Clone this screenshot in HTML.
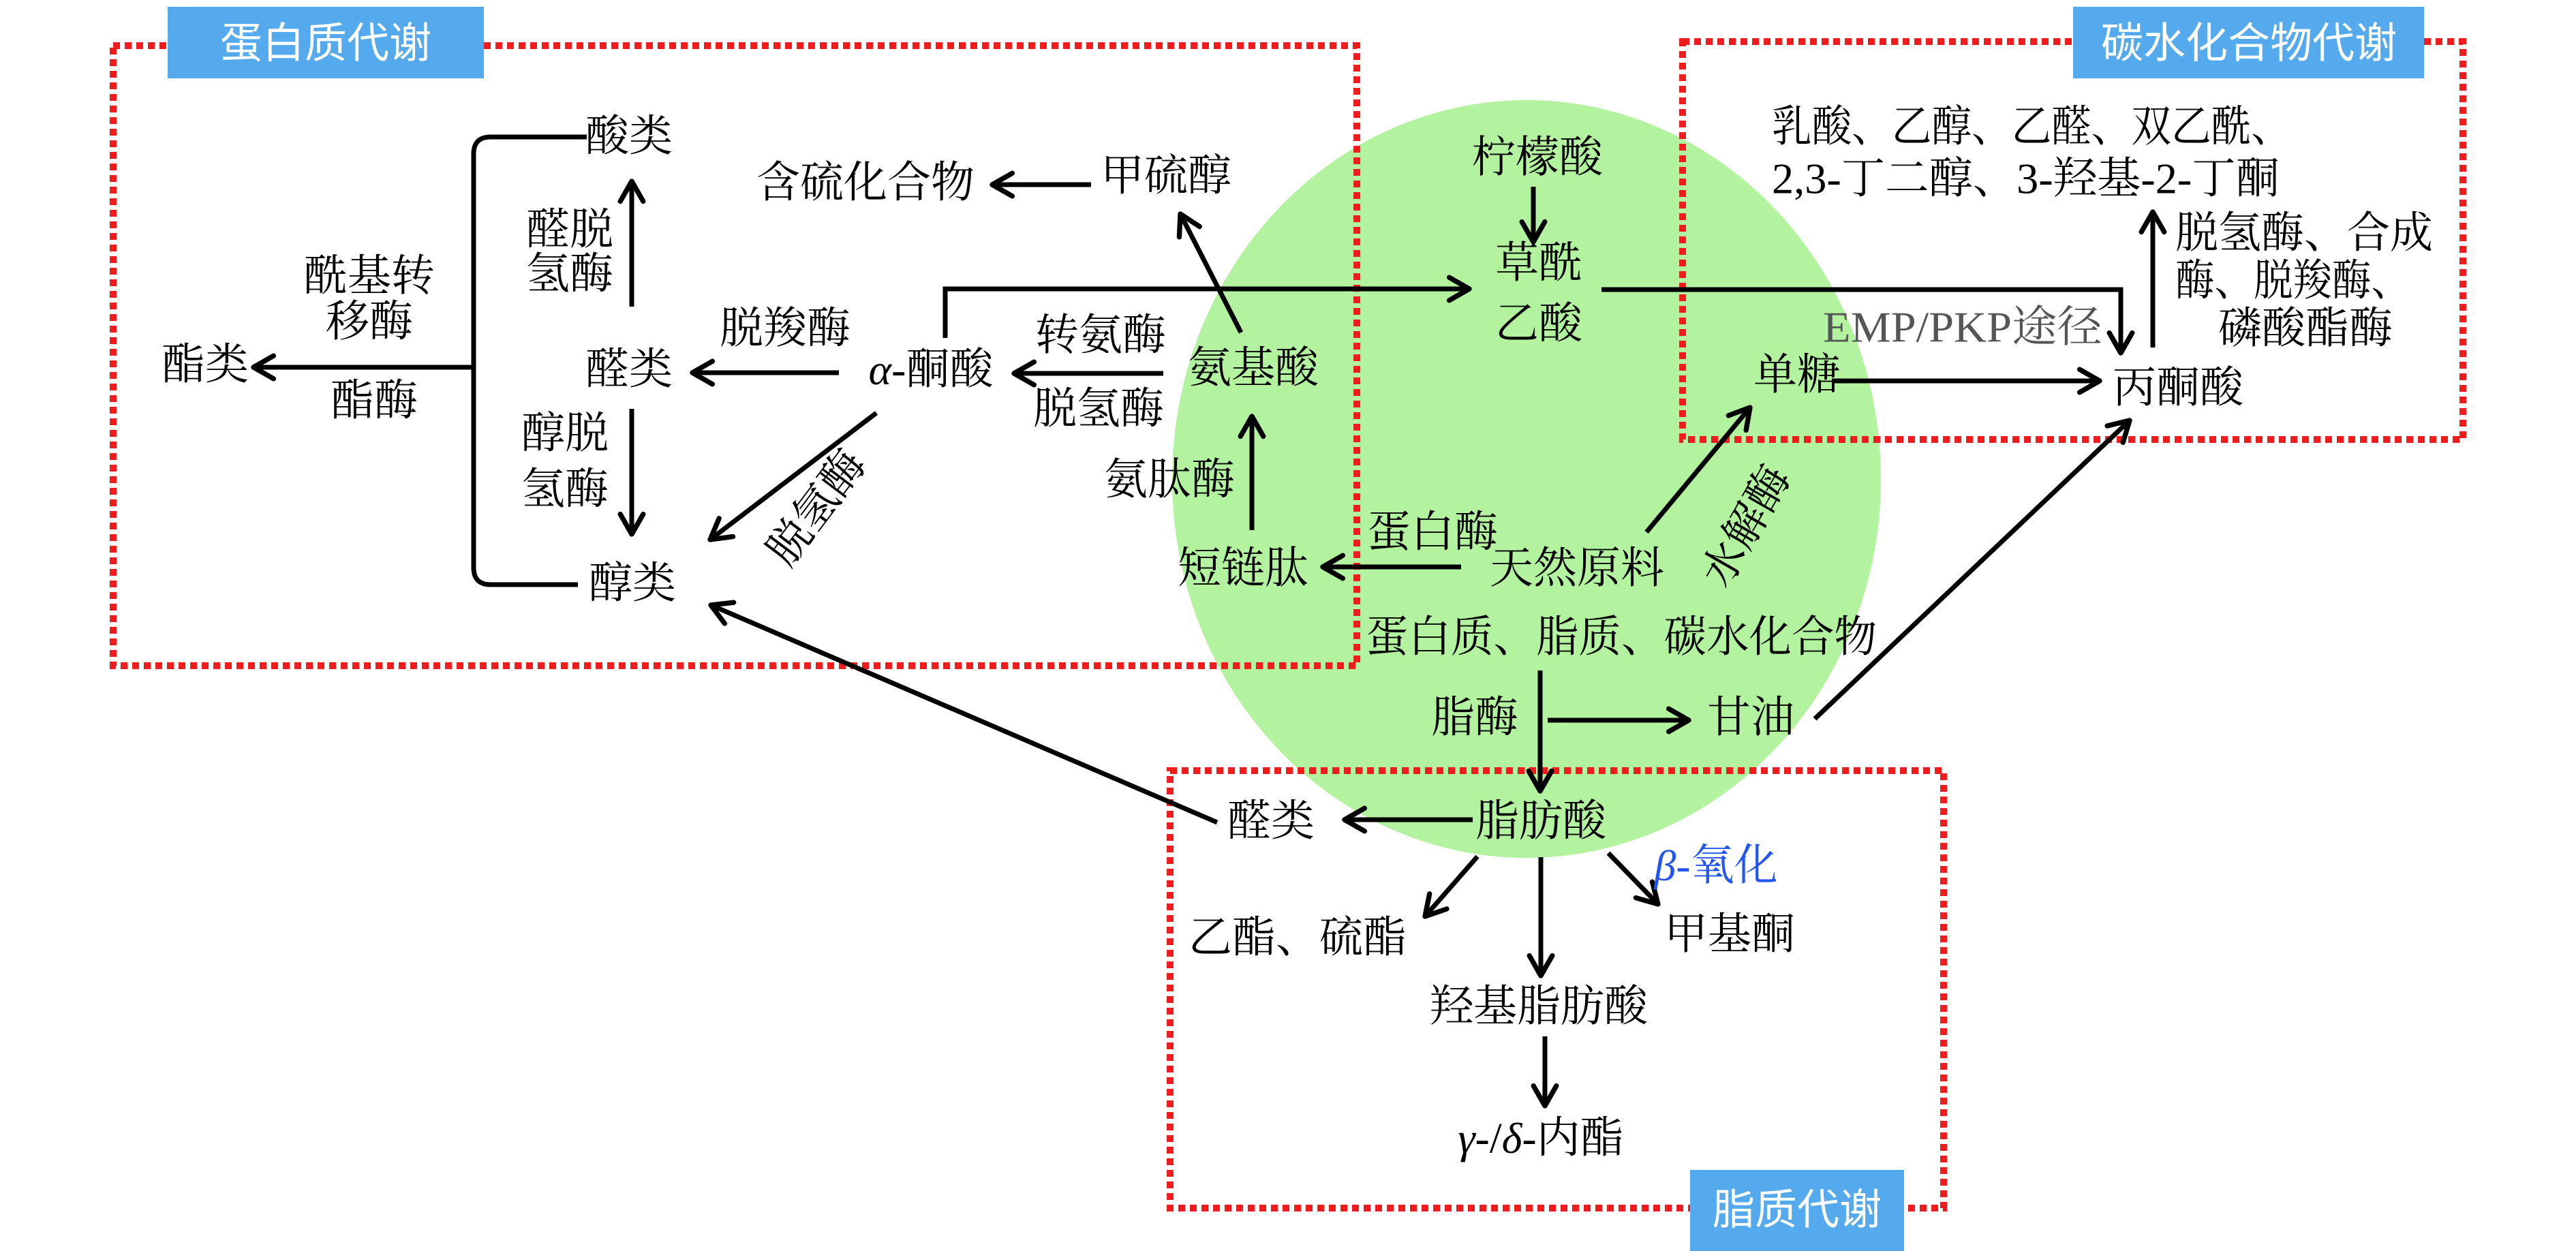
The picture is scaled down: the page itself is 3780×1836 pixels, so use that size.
<!DOCTYPE html>
<html><head><meta charset="utf-8"><style>
html,body{margin:0;padding:0;background:#fff;}
svg{display:block}
text{font-family:"Liberation Serif","Noto Serif CJK SC",serif;font-size:64px;fill:#000;}
.lab{fill:#fff;font-family:"Liberation Sans","Noto Sans CJK SC",sans-serif;font-size:62px;}
</style></head><body>
<svg width="3780" height="1836" viewBox="0 0 3780 1836" xmlns="http://www.w3.org/2000/svg">
<defs>
<marker id="a" viewBox="0 0 20 20" refX="17" refY="10" markerWidth="6" markerHeight="6" markerUnits="strokeWidth" orient="auto">
<polyline points="3,2 17,10 3,18" fill="none" stroke="#000" stroke-width="3.5" stroke-linecap="round" stroke-linejoin="round"/>
</marker>
</defs>
<ellipse cx="2240" cy="703" rx="520" ry="556" fill="#b3f3a0"/>
<g fill="none" stroke="#ee1c1c" stroke-width="10" stroke-dasharray="10,7">
<rect x="166" y="67" width="1825" height="910"/>
<rect x="2469" y="61" width="1145" height="584"/>
<rect x="1717" y="1131" width="1135" height="642"/>
</g>
<rect x="246" y="10" width="464" height="105" fill="#55aaee"/>
<text class="lab" x="478" y="64" text-anchor="middle" dominant-baseline="central">蛋白质代谢</text>
<rect x="3042" y="10" width="515" height="105" fill="#55aaee"/>
<text class="lab" x="3300" y="64" text-anchor="middle" dominant-baseline="central">碳水化合物代谢</text>
<rect x="2480" y="1717" width="314" height="119" fill="#55aaee"/>
<text class="lab" x="2637" y="1776" text-anchor="middle" dominant-baseline="central">脂质代谢</text>

<g stroke="#000" stroke-width="7" fill="none" stroke-linecap="butt">
<path d="M861,201 H720 Q695,201 695,226 V833 Q695,858 720,858 H848"/>
<line x1="695" y1="539" x2="372" y2="539" marker-end="url(#a)"/>
<line x1="927" y1="450" x2="927" y2="266" marker-end="url(#a)"/>
<line x1="927" y1="600" x2="927" y2="784" marker-end="url(#a)"/>
<line x1="1231" y1="547" x2="1016" y2="547" marker-end="url(#a)"/>
<line x1="1286" y1="606" x2="1042" y2="792" marker-end="url(#a)"/>
<line x1="1707" y1="548" x2="1488" y2="548" marker-end="url(#a)"/>
<line x1="1821" y1="488" x2="1732" y2="314" marker-end="url(#a)"/>
<line x1="1601" y1="271" x2="1456" y2="271" marker-end="url(#a)"/>
<path d="M1387,496 V424 H2156" marker-end="url(#a)"/>
<line x1="1837" y1="778" x2="1837" y2="611" marker-end="url(#a)"/>
<line x1="2144" y1="832" x2="1941" y2="832" marker-end="url(#a)"/>
<line x1="2416" y1="781" x2="2568" y2="598" marker-end="url(#a)"/>
<line x1="2250" y1="274" x2="2250" y2="355" marker-end="url(#a)"/>
<path d="M2350,425 H3112 V518" marker-end="url(#a)"/>
<line x1="2688" y1="559" x2="3081" y2="559" marker-end="url(#a)"/>
<line x1="3159" y1="510" x2="3159" y2="311" marker-end="url(#a)"/>
<line x1="2663" y1="1055" x2="3125" y2="617" marker-end="url(#a)"/>
<line x1="2260" y1="984" x2="2260" y2="1161" marker-end="url(#a)"/>
<line x1="2271" y1="1057" x2="2478" y2="1057" marker-end="url(#a)"/>
<line x1="2161" y1="1203" x2="1973" y2="1203" marker-end="url(#a)"/>
<line x1="1786" y1="1207" x2="1043" y2="888" marker-end="url(#a)"/>
<line x1="2168" y1="1257" x2="2091" y2="1345" marker-end="url(#a)"/>
<line x1="2360" y1="1252" x2="2433" y2="1327" marker-end="url(#a)"/>
<line x1="2261" y1="1258" x2="2261" y2="1432" marker-end="url(#a)"/>
<line x1="2267" y1="1521" x2="2267" y2="1623" marker-end="url(#a)"/>
</g>

<g text-anchor="middle" dominant-baseline="central">
<text x="923" y="200">酸类</text>
<text x="1270" y="268">含硫化合物</text>
<text x="1711" y="258">甲硫醇</text>
<text x="836" y="337">醛脱</text>
<text x="836" y="402">氢酶</text>
<text x="542" y="405">酰基转</text>
<text x="542" y="472">移酶</text>
<text x="549" y="588">酯酶</text>
<text x="301" y="535">酯类</text>
<text x="923" y="542">醛类</text>
<text x="1152" y="482">脱羧酶</text>
<text x="1366" y="542"><tspan font-style="italic">α</tspan>-酮酸</text>
<text x="1615" y="492">转氨酶</text>
<text x="1612" y="600">脱氢酶</text>
<text x="1839" y="540">氨基酸</text>
<text x="829" y="636">醇脱</text>
<text x="829" y="718">氢酶</text>
<text x="928" y="856">醇类</text>
<text x="1198" y="745" transform="rotate(-53 1198 745)">脱氢酶</text>
<text x="1716" y="704">氨肽酶</text>
<text x="1824" y="834">短链肽</text>
<text x="2102" y="781">蛋白酶</text>
<text x="2314" y="834">天然原料</text>
<text x="2562" y="772" transform="rotate(-60 2562 772)">水解酶</text>
<text x="2379" y="935" textLength="750" lengthAdjust="spacingAndGlyphs">蛋白质、脂质、碳水化合物</text>
<text x="2256" y="231">柠檬酸</text>
<text x="2258" y="386">草酰</text>
<text x="2258" y="475">乙酸</text>
<text x="2880" y="480" style="fill:#555" textLength="410" lengthAdjust="spacingAndGlyphs">EMP/PKP途径</text>
<text x="2637" y="550">单糖</text>
<text x="3196" y="569">丙酮酸</text>
<text x="3383" y="482">磷酸酯酶</text>
<text x="2164" y="1053">脂酶</text>
<text x="2569" y="1053">甘油</text>
<text x="1865" y="1205">醛类</text>
<text x="2261" y="1205">脂肪酸</text>
<text x="2518" y="1270" style="fill:#2255ee"><tspan font-style="italic">β</tspan>-氧化</text>
<text x="1904" y="1376" textLength="320" lengthAdjust="spacingAndGlyphs">乙酯、硫酯</text>
<text x="2538" y="1371">甲基酮</text>
<text x="2258" y="1477">羟基脂肪酸</text>
<text x="2261" y="1670"><tspan font-style="italic">γ</tspan>-/<tspan font-style="italic">δ</tspan>-内酯</text>
</g>
<g dominant-baseline="central">
<text x="2600" y="186" textLength="762" lengthAdjust="spacingAndGlyphs">乳酸、乙醇、乙醛、双乙酰、</text>
<text x="2600" y="262" textLength="745" lengthAdjust="spacingAndGlyphs">2,3-丁二醇、3-羟基-2-丁酮</text>
<text x="3192" y="342" textLength="378" lengthAdjust="spacingAndGlyphs">脱氢酶、合成</text>
<text x="3192" y="412" textLength="345" lengthAdjust="spacingAndGlyphs">酶、脱羧酶、</text>
</g>
</svg>
</body></html>
